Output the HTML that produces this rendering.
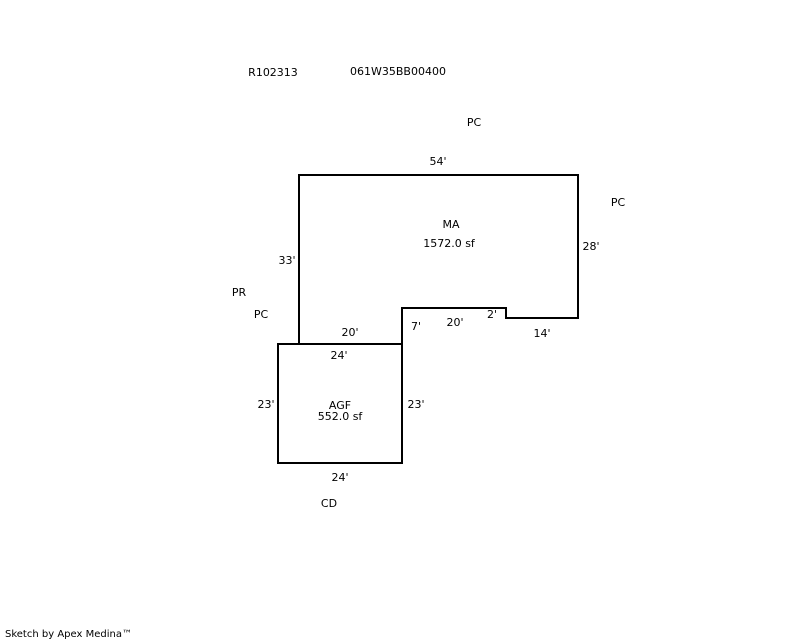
<!DOCTYPE html>
<html><head><style>body{margin:0;background:#fff}svg{display:block}text{font-family:"DejaVu Sans","Liberation Sans",sans-serif;font-size:11px;fill:#000}</style></head>
<body>
<svg width="800" height="640" xmlns="http://www.w3.org/2000/svg">
<g fill="none" stroke="#000" stroke-width="2">
<polyline points="299,344 299,175 578,175 578,318 506,318 506,308 402,308 402,344"/>
<rect x="278" y="344" width="124" height="119"/>
</g>
<g text-anchor="middle">
<text x="273" y="76">R102313</text>
<text x="398" y="75">061W35BB00400</text>
<text x="474" y="126">PC</text>
<text x="618" y="206">PC</text>
<text x="438" y="165">54'</text>
<text x="451" y="228">MA</text>
<text x="449" y="247">1572.0 sf</text>
<text x="591" y="250">28'</text>
<text x="287" y="264">33'</text>
<text x="239" y="296">PR</text>
<text x="261" y="318">PC</text>
<text x="350" y="336">20'</text>
<text x="416" y="330">7'</text>
<text x="455" y="326">20'</text>
<text x="492" y="318">2'</text>
<text x="542" y="337">14'</text>
<text x="339" y="359">24'</text>
<text x="266" y="408">23'</text>
<text x="416" y="408">23'</text>
<text x="340" y="409">AGF</text>
<text x="340" y="420">552.0 sf</text>
<text x="340" y="481">24'</text>
<text x="329" y="507">CD</text>
</g>
<text x="5" y="637" style="font-size:10px">Sketch by Apex Medina™</text>
</svg>
</body></html>
